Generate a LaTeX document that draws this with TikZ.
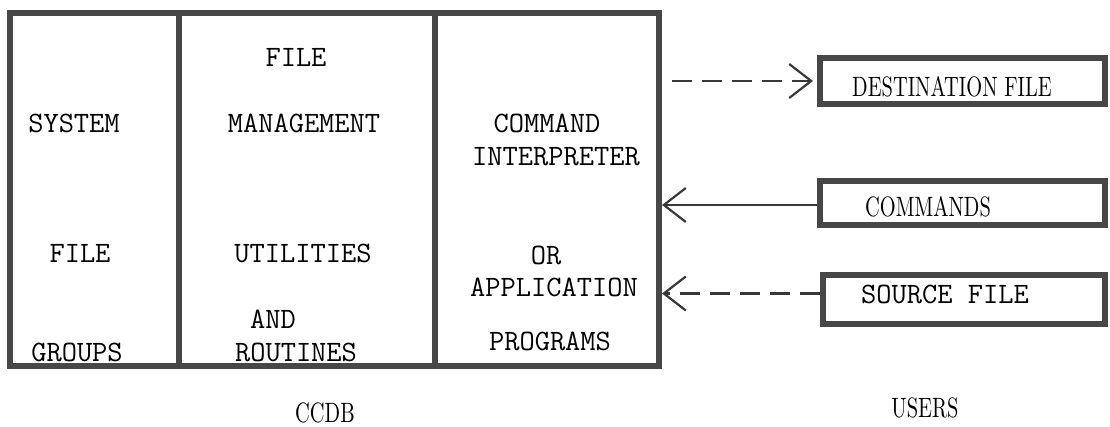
\documentclass[tikz,border=0pt]{standalone}
\usepackage{fontspec}
\usepackage{tikz}
\usetikzlibrary{calc,arrows.meta,positioning}
\newfontfamily\narrowrm{lmroman10-regular.otf}[FakeStretch=0.73]

\begin{document}
\begin{tikzpicture}[x=.5pt,y=-.5pt,>={Straight Barb[length=11pt,width=17pt]},
  font=\ttfamily\fontsize{14.8}{18}\selectfont,
  panel/.style={draw=black!72,line width=3pt,minimum width=#1,
                minimum height=176.5pt,inner sep=0pt},
  userbox/.style={draw=black!72,line width=3pt,minimum width=142.5pt,
                  minimum height=#1,inner sep=0pt},
  slim/.style={font=\narrowrm\fontsize{14}{16}\selectfont},
  flow/.style={->,line width=1.1pt,black!78},
  dashflow/.style={flow,dash pattern=on 10pt off 5pt}]
 \useasboundingbox (0,0) rectangle (1110,427);
 \node[panel=84.5pt] (sys)  at (94.5,189.5) {};
 \node[panel=128pt]  (mgmt) at (307,189.5)  {};
 \node[panel=112pt]  (cmd)  at (547,189.5)  {};
 \node (sys1) at (74,123) {SYSTEM};
 \node (sys2) at (80,253) {FILE};
 \node (sys3) at (77,352) {GROUPS};
 \node (fm1) at (296,57)  {FILE};
 \node (fm2) at (304,123) {MANAGEMENT};
 \node (fm3) at (303,253) {UTILITIES};
 \node (fm4) at (273,319) {AND};
 \node (fm5) at (296,352) {ROUTINES};
 \node (ci1) at (547,123) {COMMAND};
 \node (ci2) at (556,157) {INTERPRETER};
 \node (ci3) at (546,255) {OR};
 \node (ci4) at (554,287) {APPLICATION};
 \node (ci5) at (550,341) {PROGRAMS};
 \node[userbox=23pt]   (dest) at (962.5,81)  {};
 \node[userbox=22pt]   (cmds) at (962.5,203) {};
 \node[userbox=24.5pt,minimum width=141pt] (src) at (964,299.5) {};
 \node[slim] (desttxt) at (952,87)  {DESTINATION FILE};
 \node[slim] (cmdstxt) at (928,207) {COMMANDS};
 \node (srctxt) at (945,294) {SOURCE FILE};
 \coordinate (destout) at (cmd.east |- dest.west);
 \coordinate (srcin) at ([yshift=3pt]src.west);
 \draw[dashflow] ([xshift=5pt]destout) -- ([xshift=-2pt]dest.west);
 \draw[flow] ([yshift=-1pt]cmds.west) -- ([yshift=-1pt]cmds.west -| cmd.east);
 \draw[dashflow] (srcin) -- (srcin -| cmd.east);
 \node[slim] (ccdb)  at (325,413) {CCDB};
 \node[slim] (users) at (925,408) {USERS};
\end{tikzpicture}
\end{document}
